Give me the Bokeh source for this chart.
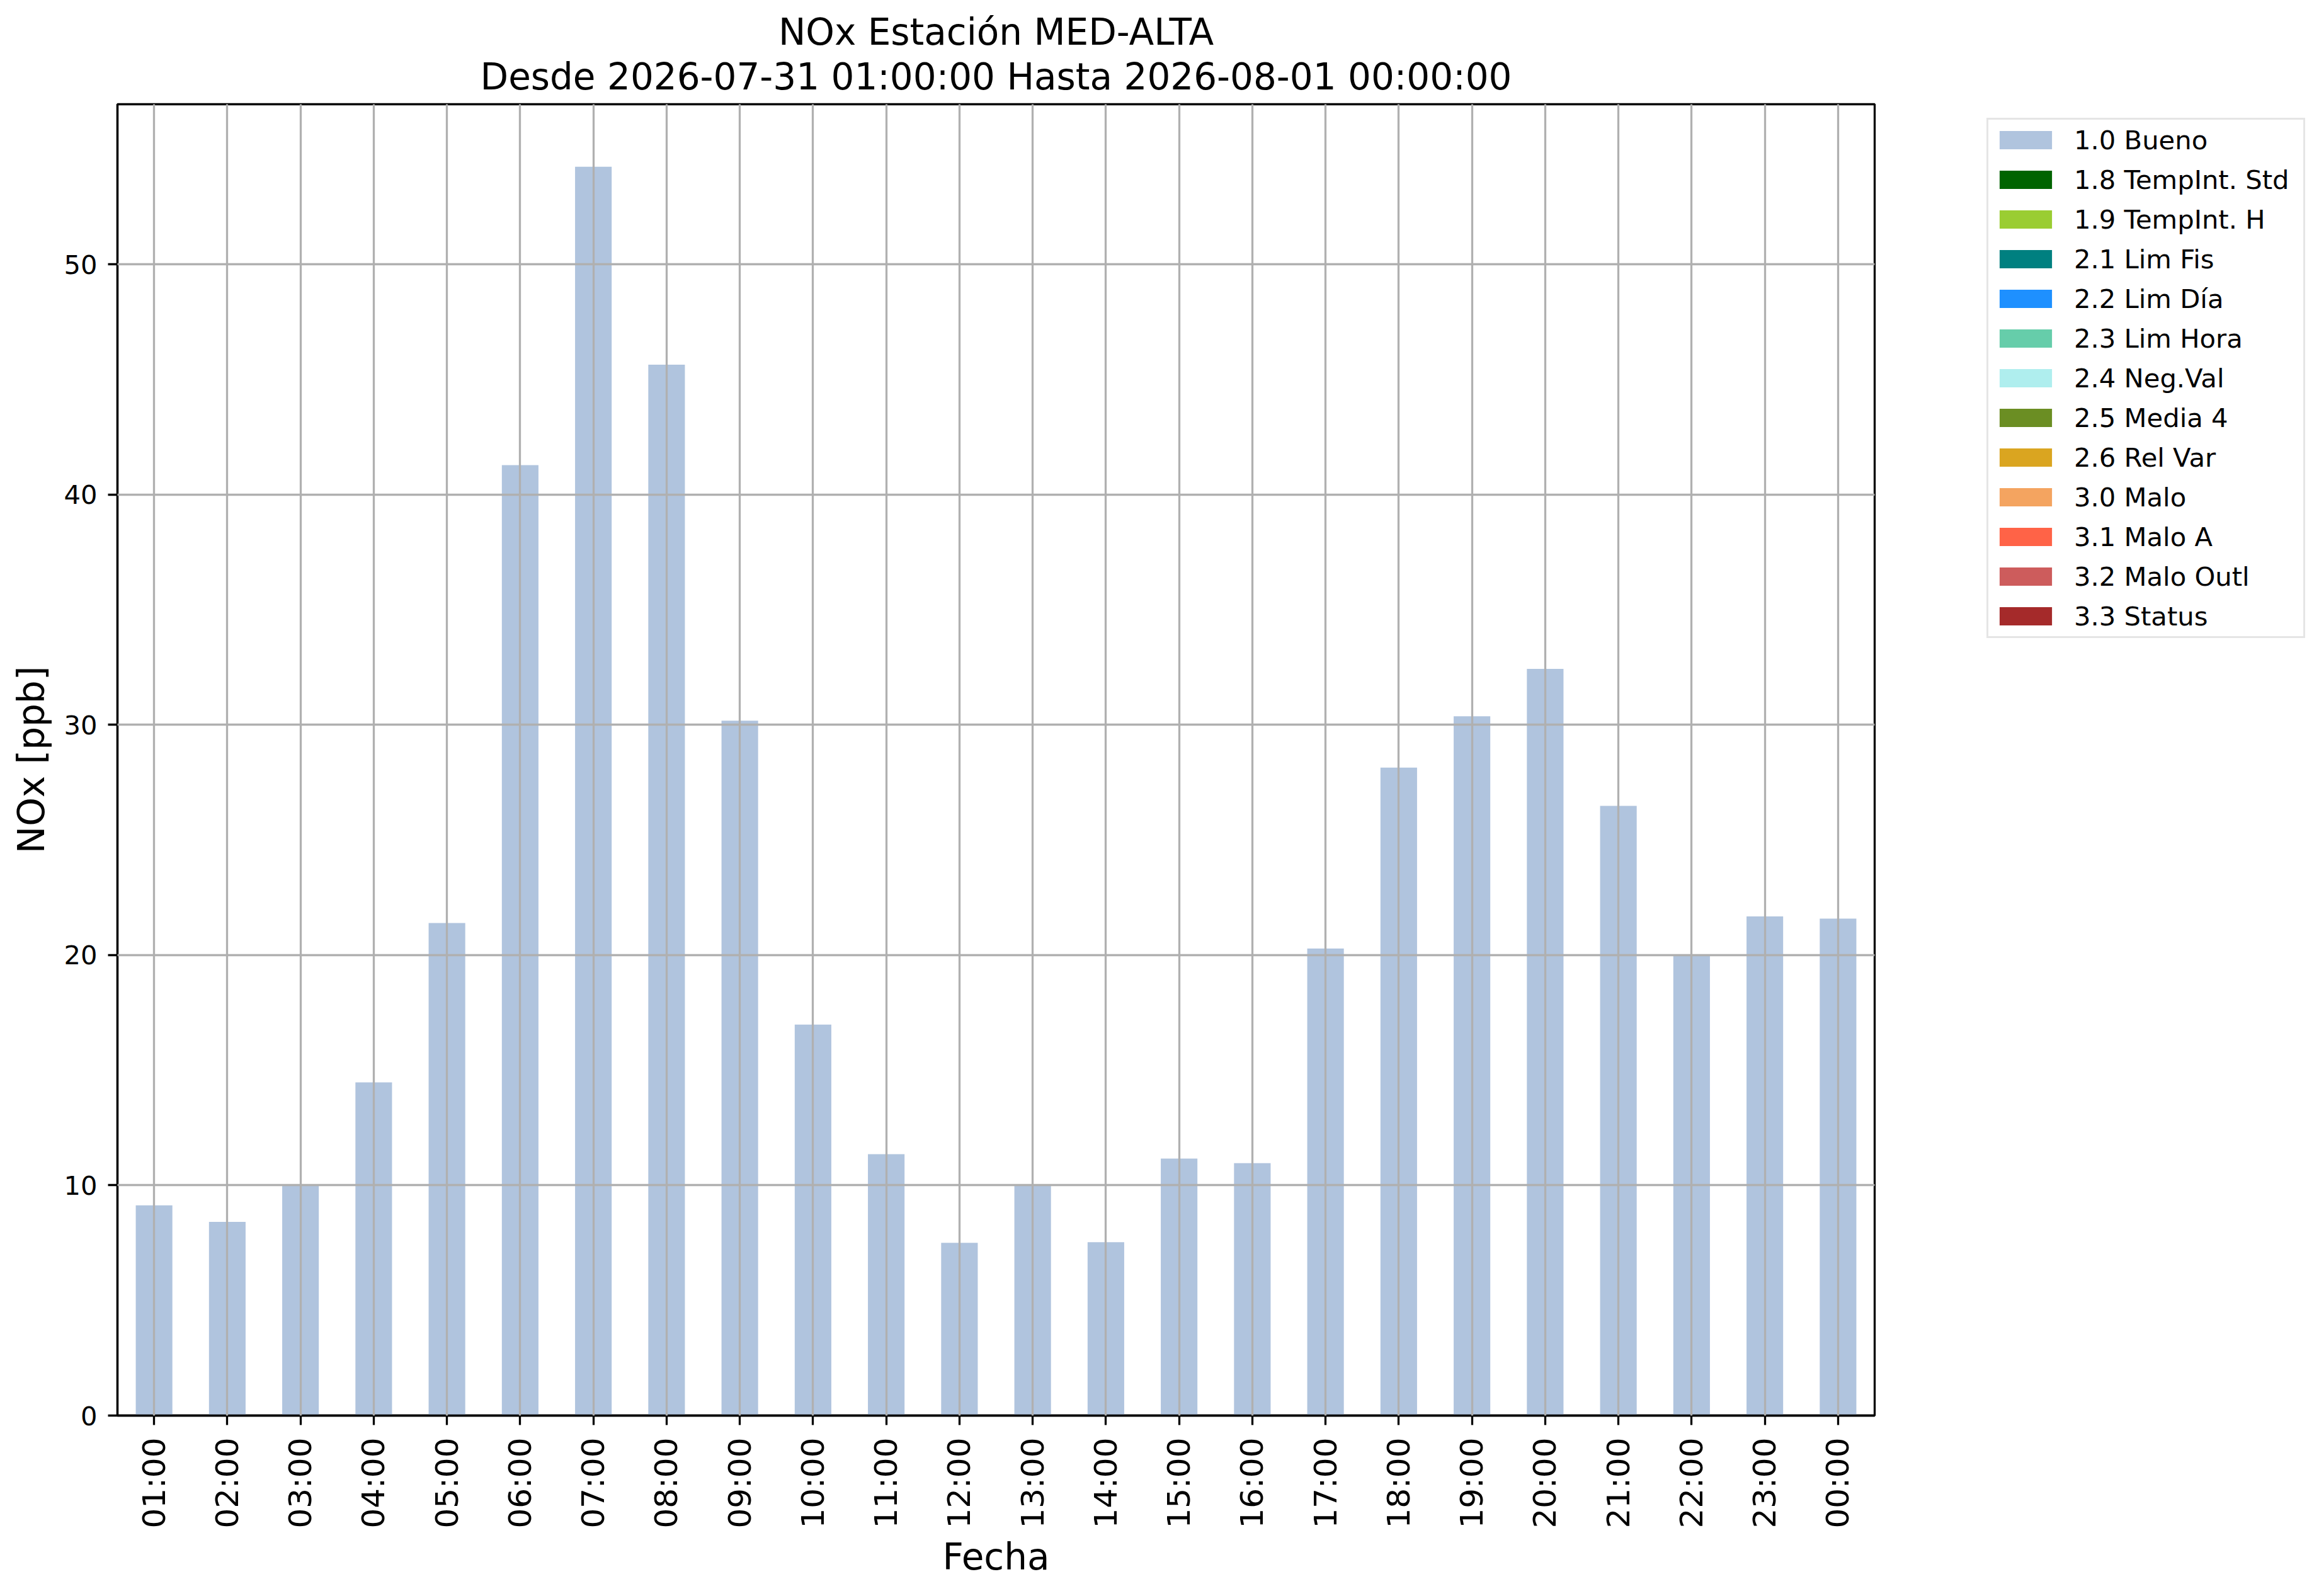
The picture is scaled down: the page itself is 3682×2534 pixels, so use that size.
from math import pi
from bokeh.plotting import figure
from bokeh.layouts import row
from bokeh.models import (Range1d, FactorRange, FixedTicker, Legend, LegendItem,
                          ColumnDataSource, Title)
from bokeh.embed import file_html
from bokeh.resources import INLINE

# ---- data ----
hours = ["01:00", "02:00", "03:00", "04:00", "05:00", "06:00", "07:00", "08:00",
         "09:00", "10:00", "11:00", "12:00", "13:00", "14:00", "15:00", "16:00",
         "17:00", "18:00", "19:00", "20:00", "21:00", "22:00", "23:00", "00:00"]
nox = [9.13, 8.41, 10.0, 14.47, 21.39, 41.28, 54.24, 45.64,
       30.18, 16.98, 11.35, 7.50, 10.0, 7.53, 11.16, 10.96,
       20.28, 28.14, 30.37, 32.43, 26.48, 20.04, 21.68, 21.58]
flag_labels = ["1.0 Bueno", "1.8 TempInt. Std", "1.9 TempInt. H", "2.1 Lim Fis",
               "2.2 Lim Día", "2.3 Lim Hora", "2.4 Neg.Val", "2.5 Media 4",
               "2.6 Rel Var", "3.0 Malo", "3.1 Malo A", "3.2 Malo Outl", "3.3 Status"]
flag_colors = ["#b0c4de", "#006400", "#9acd32", "#008080", "#1e90ff", "#66cdaa",
               "#afeeee", "#6b8e23", "#daa520", "#f4a460", "#ff6347", "#cd5c5c",
               "#a52a2a"]
y_ticks = [0, 10, 20, 30, 40, 50]
title1 = "NOx Estación MED-ALTA"
title2 = "Desde 2026-07-31 01:00:00 Hasta 2026-08-01 00:00:00"

FONT = "DejaVu Sans"
H = 2518
W_MAIN = 2986
W_LEG = 680

p = figure(width=W_MAIN, height=H, output_backend="svg", toolbar_location=None,
           x_range=FactorRange(factors=hours), y_range=Range1d(0, max(nox) * 1.05),
           min_border_left=186, min_border_right=10, min_border_top=165,
           min_border_bottom=271, title=None)
p.background_fill_color = "white"
p.border_fill_color = "white"
p.outline_line_color = "black"
p.outline_line_width = 3.3

# bars (flag 1.0 Bueno)
src = ColumnDataSource(dict(x=hours, top=nox))
p.vbar(x="x", top="top", width=0.5, source=src, fill_color=flag_colors[0],
       line_color=None)

# axes
for ax in (p.xaxis[0], p.yaxis[0]):
    ax.axis_line_width = 3.3
    ax.axis_line_color = "black"
    ax.major_tick_line_width = 3.3
    ax.major_tick_line_color = "black"
    ax.major_tick_out = 15
    ax.major_tick_in = 0
    ax.minor_tick_line_color = None
    ax.major_label_text_font = FONT
    ax.axis_label_text_font = FONT
    ax.axis_label_text_font_style = "normal"
    ax.axis_label_text_font_size = "58px"
    ax.axis_label_text_color = "black"
    ax.major_label_text_color = "black"

p.xaxis.axis_label = "Fecha"
p.xaxis.major_label_orientation = pi / 2
p.xaxis.major_label_text_font_size = "50px"
p.xaxis.major_label_standoff = 20
p.xaxis.axis_label_standoff = 8
p.xaxis.group_text_font_size = "0px"

p.yaxis.axis_label = "NOx [ppb]"
p.yaxis.ticker = FixedTicker(ticks=y_ticks)
p.yaxis.major_label_text_font_size = "41.7px"
p.yaxis.major_label_standoff = 17
p.yaxis.axis_label_standoff = 14

# grids above bars
p.xgrid.grid_line_color = "#b0b0b0"
p.xgrid.grid_line_width = 3.3
p.ygrid.grid_line_color = "#b0b0b0"
p.ygrid.grid_line_width = 3.3
p.ygrid.ticker = FixedTicker(ticks=y_ticks)
p.xgrid.level = "guide"
p.ygrid.level = "guide"

# titles (added bottom-up)
t2 = Title(text=title2, align="center", text_font=FONT, text_font_size="58px",
           text_font_style="normal", text_color="black", standoff=20, offset=0)
t1 = Title(text=title1, align="center", text_font=FONT, text_font_size="58px",
           text_font_style="normal", text_color="black", standoff=-18, offset=0)
p.add_layout(t2, "above")
p.add_layout(t1, "above")

# legend figure to the right of the chart (hidden proxy renderers as handles)
lp = figure(width=W_LEG, height=H, output_backend="svg", toolbar_location=None,
            x_range=Range1d(0, 1), y_range=Range1d(0, 1),
            x_axis_location=None, y_axis_location=None,
            min_border_left=0, min_border_right=0, min_border_top=0,
            min_border_bottom=0, title=None)
lp.outline_line_color = None
lp.grid.visible = False
lp.background_fill_color = "white"
lp.border_fill_color = "white"
leg_renderers = [lp.vbar(x=[0.5], top=[0.0], width=0.5, fill_color=c,
                         line_color=None, visible=False)
                 for c in flag_colors]
items = [LegendItem(label=l, renderers=[r]) for l, r in zip(flag_labels, leg_renderers)]
legend = Legend(items=items, location=(168, 1234), padding=7, spacing=13,
                glyph_width=104, glyph_height=36, label_height=50, label_width=357,
                label_standoff=25, label_text_font=FONT, label_text_color="black",
                label_text_font_size="41.7px", border_line_color="#cccccc",
                border_line_width=3.3, background_fill_color="white",
                background_fill_alpha=1.0, margin=0)
lp.add_layout(legend, "center")

open("out.html", "w").write(file_html(row(p, lp), INLINE))
